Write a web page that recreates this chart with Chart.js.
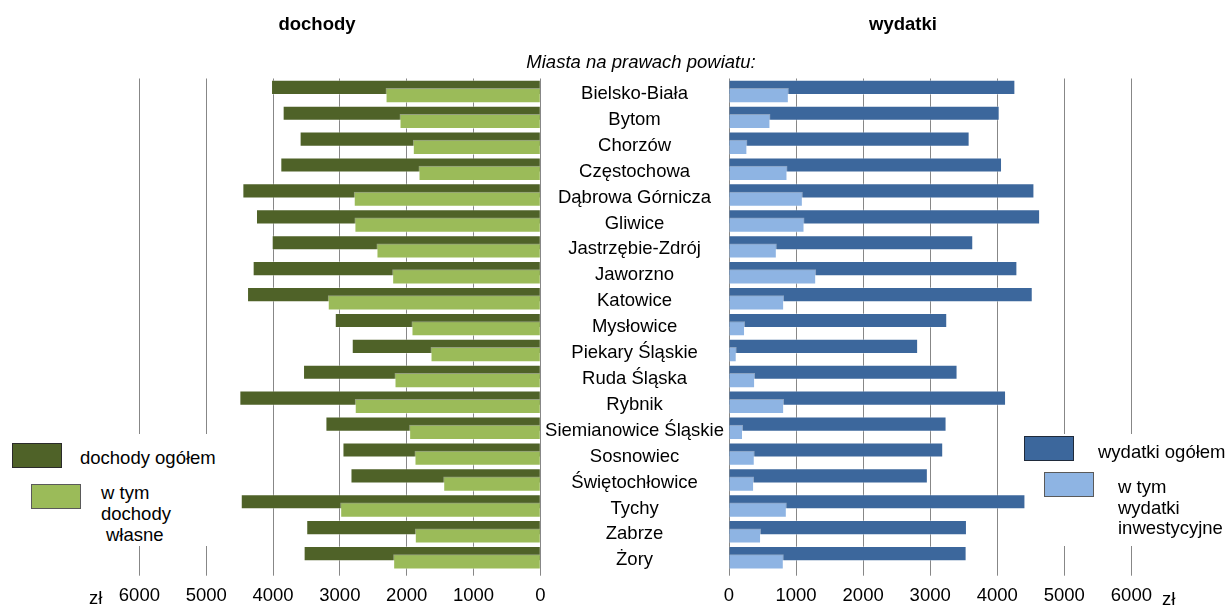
<!DOCTYPE html>
<html>
<head>
<meta charset="utf-8">
<script src="https://cdn.jsdelivr.net/npm/chart.js@4/dist/chart.umd.min.js"></script>
<style>
  body { margin: 0; background: #fff; font-family: "Liberation Sans", Arial, sans-serif; }
  #wrap { position: relative; width: 1227px; height: 607px; overflow: hidden; }
  canvas { position: absolute; top: 0; }
  .t { position: absolute; font-size: 18.5px; line-height: 22px; color: #000; white-space: nowrap; }
  .c { transform: translateX(-50%); }
  .box { position: absolute; width: 48px; height: 23px; border: 1px solid #2b2b2b; }
  .mask { position: absolute; background: #fff; }
</style>
</head>
<body>
<div id="wrap">
  <canvas id="left" width="560" height="607" style="left:0"></canvas>
  <canvas id="right" width="686" height="607" style="left:541px"></canvas>

  <div class="t c" style="left:317px;top:13px;font-weight:bold">dochody</div>
  <div class="t c" style="left:903px;top:13px;font-weight:bold">wydatki</div>
  <div class="t c" style="left:641px;top:51px;font-style:italic">Miasta na prawach powiatu:</div>
  <div class="t" style="left:89px;top:587px">zł</div>
  <div class="t" style="left:1162px;top:588px">zł</div>

  <div class="mask" style="left:0;top:434px;width:228px;height:112px"></div>
  <div class="box" style="left:12px;top:443px;background:#4f6228"></div>
  <div class="t" style="left:80px;top:447px">dochody ogółem</div>
  <div class="box" style="left:31px;top:484px;background:#9bbb59;border-color:#5a5a5a"></div>
  <div class="t" style="left:101px;top:482px">w tym</div>
  <div class="t" style="left:101px;top:503px">dochody</div>
  <div class="t" style="left:106px;top:524px">własne</div>

  <div class="mask" style="left:1026px;top:434px;width:201px;height:112px"></div>
  <div class="box" style="left:1024px;top:436px;background:#3c679c;border-color:#1f2a3a"></div>
  <div class="t" style="left:1098px;top:441px">wydatki ogółem</div>
  <div class="box" style="left:1044px;top:472px;background:#8eb4e3;border-color:#5a5a5a"></div>
  <div class="t" style="left:1118px;top:476px">w tym</div>
  <div class="t" style="left:1118px;top:497px">wydatki</div>
  <div class="t" style="left:1118px;top:517px">inwestycyjne</div>
</div>

<script>
const cities = ['Bielsko-Biała', 'Bytom', 'Chorzów', 'Częstochowa', 'Dąbrowa Górnicza', 'Gliwice',
    'Jastrzębie-Zdrój', 'Jaworzno', 'Katowice', 'Mysłowice', 'Piekary Śląskie', 'Ruda Śląska',
    'Rybnik', 'Siemianowice Śląskie', 'Sosnowiec', 'Świętochłowice', 'Tychy', 'Zabrze', 'Żory'];

// zł per inhabitant
const dochodyOgolem = [4025, 3851, 3597, 3886, 4454, 4250, 4015, 4300, 4384, 3071,
    2817, 3546, 4499, 3211, 2956, 2836, 4478, 3498, 3537];
const dochodyWlasne = [2311, 2102, 1903, 1818, 2787, 2777, 2447, 2212, 3176, 1923,
    1638, 2177, 2772, 1958, 1878, 1448, 2990, 1873, 2197];
const wydatkiOgolem = [4265, 4031, 3583, 4066, 4549, 4634, 3637, 4295, 4524, 3249,
    2815, 3403, 4126, 3239, 3189, 2960, 4415, 3543, 3538];
const wydatkiInwest = [887, 613, 269, 867, 1096, 1121, 708, 1295, 817, 234,
    110, 384, 817, 204, 379, 369, 857, 473, 812];

const xTicks = [0, 1000, 2000, 3000, 4000, 5000, 6000];

Chart.defaults.font.family = '"Liberation Sans", Arial, sans-serif';
Chart.defaults.font.size = 18.5;
Chart.defaults.color = '#000';
Chart.defaults.animation = false;

const gridColor = '#878787';
const shift = 0.16; // the two bars of one city overlap, the second sits a bit lower

function toPoints(values, offset) {
    return values.map((v, i) => ({ x: v, y: i + offset }));
}

function valueAxis(reverse) {
    return {
        type: 'linear',
        min: 0,
        max: 6000,
        reverse: reverse,
        afterBuildTicks: scale => { scale.ticks = xTicks.map(v => ({ value: v })); },
        ticks: { padding: 9, maxRotation: 0, callback: v => String(v) },
        grid: { color: gridColor, tickLength: 5 },
        border: { display: false },
        afterFit: scale => { scale.height = 36.3; }
    };
}

function cityAxis(show) {
    return {
        type: 'linear',
        display: show,
        offset: false,
        min: -0.5,
        max: cities.length - 0.5,
        reverse: true,
        afterBuildTicks: scale => { scale.ticks = cities.map((c, i) => ({ value: i })); },
        ticks: { autoSkip: false, crossAlign: 'center', padding: 5, labelOffset: 2.5, callback: v => cities[v] },
        grid: { display: false, drawTicks: false },
        border: { display: false },
        afterFit: scale => { scale.width = show ? 188 : 0; }
    };
}

function makeChart(id, dark, light, darkColor, lightColor, left) {
    const data = {
        datasets: [
            {
                label: 'ogółem',
                data: toPoints(dark, -shift),
                backgroundColor: darkColor,
                borderColor: 'rgba(255,255,255,0.3)',
                borderWidth: 1,
                order: 1,
            },
            {
                label: 'w tym',
                data: toPoints(light, shift),
                backgroundColor: lightColor,
                borderColor: 'rgba(255,255,255,0.4)',
                borderWidth: 1,
                order: 0,
            },
        ],
    };

    const config = {
        type: 'bar',
        data: data,
        options: {
            indexAxis: 'y',
            responsive: false,
            grouped: false,
            barThickness: 14.5,
            layout: {
                padding: left
                    ? { left: 139.4, right: 19.7, top: 78.5, bottom: 0 }
                    : { left: 0, right: 95.6, top: 78.5, bottom: 0 }
            },
            plugins: { legend: { display: false }, tooltip: { enabled: false } },
            scales: {
                x: valueAxis(left),
                y: cityAxis(!left)
            }
        },
    };

    return new Chart(document.getElementById(id), config);
}

makeChart('left', dochodyOgolem, dochodyWlasne, '#4f6228', '#9bbb59', true);
makeChart('right', wydatkiOgolem, wydatkiInwest, '#3c679c', '#8eb4e3', false);
</script>
</body>
</html>
